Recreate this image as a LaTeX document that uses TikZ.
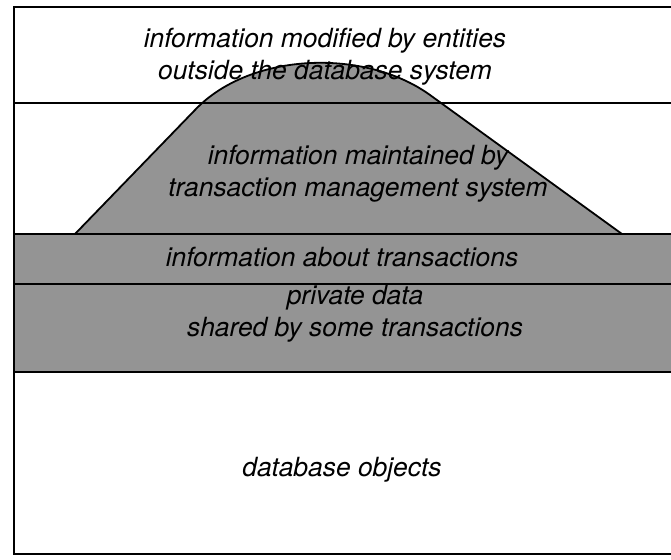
\documentclass[tikz,border=0pt]{standalone}
\usepackage{fontspec}
\setmainfont{TeX Gyre Heros}
\begin{document}
\begin{tikzpicture}[x=0.5pt,y=-0.5pt,
  lbl/.style={font=\fontsize{13.2}{16}\selectfont\itshape, align=center, inner sep=0pt},
  shade/.style={fill=black!42}]
\useasboundingbox (0,0) rectangle (671,560);
\fill[shade] (14,234) rectangle (671,372);
\fill[shade] (75,234) -- (195,110) .. controls (250,52) and (365,48) .. (430,95) -- (622,234) -- cycle;
\draw[line width=0.9pt] (75,234) -- (195,110) .. controls (250,52) and (365,48) .. (430,95) -- (622,234);
\draw[line width=1.1pt] (671,7) -- (14,7) -- (14,554) -- (671,554);
\draw[line width=0.9pt] (14,103) -- (671,103);
\draw[line width=0.9pt] (14,234) -- (671,234);
\draw[line width=0.9pt] (14,284) -- (671,284);
\draw[line width=0.9pt] (14,372) -- (671,372);
\node[lbl] (outside) at (325,57) {information modified by entities\\outside the database system};
\node[lbl] (tms) at (358,174) {information maintained by\\transaction management system};
\node[lbl] (txinfo) at (342,257) {information about transactions};
\node[lbl] (private) at (355,314) {private data\\shared by some transactions};
\node[lbl] (dbobj) at (342,470) {database objects};
\end{tikzpicture}
\end{document}
